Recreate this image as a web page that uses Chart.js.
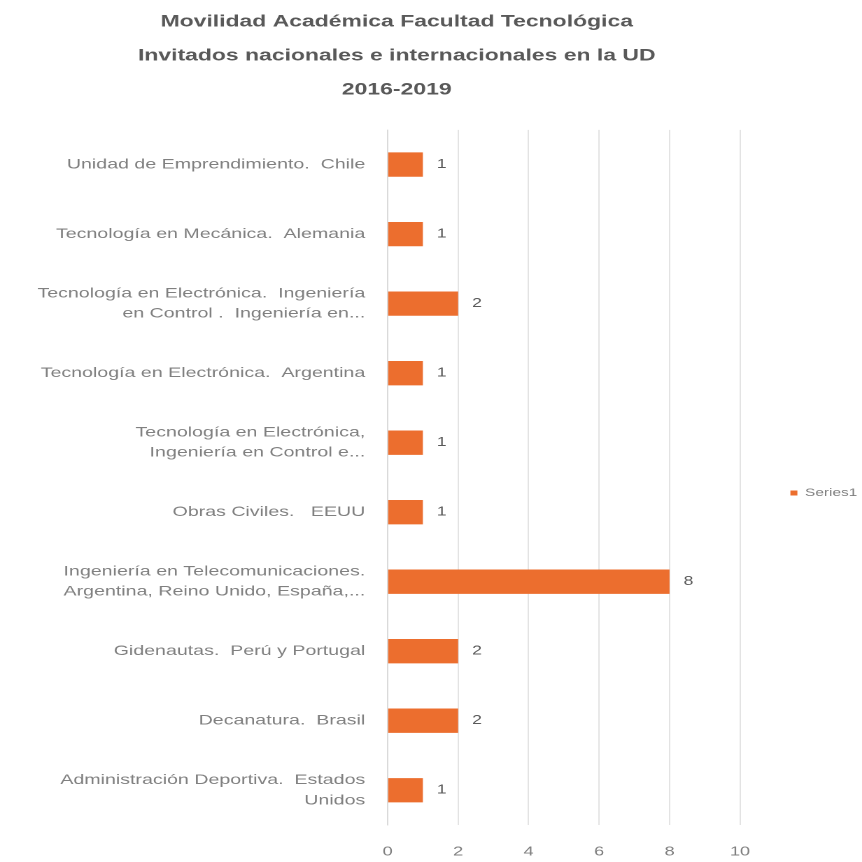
<!DOCTYPE html>
<html>
<head>
<meta charset="utf-8">
<script src="https://cdn.jsdelivr.net/npm/chart.js@4.4.0/dist/chart.umd.min.js"></script>
<style>
  html, body { margin: 0; padding: 0; background: #fff; overflow: hidden; }
  /* the original picture is stretched sideways, so the canvas is too */
  #wrap { width: 616px; height: 862px; transform: scaleX(1.3994); transform-origin: 0 0; }
</style>
</head>
<body>
<div id="wrap"><canvas id="chart" width="616" height="862"></canvas></div>
<script>
const categories = [
  'Unidad de Emprendimiento.  Chile',
  'Tecnología en Mecánica.  Alemania',
  ['Tecnología en Electrónica.  Ingeniería', 'en Control .  Ingeniería en...'],
  'Tecnología en Electrónica.  Argentina',
  ['Tecnología en Electrónica,', 'Ingeniería en Control e...'],
  'Obras Civiles.   EEUU',
  ['Ingeniería en Telecomunicaciones.', 'Argentina, Reino Unido, España,...'],
  'Gidenautas.  Perú y Portugal',
  'Decanatura.  Brasil',
  ['Administración Deportiva.  Estados', 'Unidos']
]
const series1 = [1, 1, 2, 1, 1, 1, 8, 2, 2, 1]
const xTicks = [0, 2, 4, 6, 8, 10]
const titleLines = [
  'Movilidad Académica Facultad Tecnológica',
  'Invitados nacionales e internacionales en la UD',
  '2016-2019'
]

const fontName = "'Liberation Sans', Arial, sans-serif"

// numbers next to the bar ends
const valueLabels = {
  id: 'valueLabels',
  afterDatasetsDraw(chart) {
    const ctx = chart.ctx
    const meta = chart.getDatasetMeta(0)
    ctx.save()
    ctx.font = '12.5px ' + fontName
    ctx.fillStyle = '#595959'
    ctx.textAlign = 'left'
    ctx.textBaseline = 'middle'
    meta.data.forEach((bar, i) => {
      ctx.fillText(String(series1[i]), bar.x + 10, bar.y)
    })
    ctx.restore()
  }
}

// title sits a bit left of the middle, legend a bit below it, in the original
const boxShift = {
  id: 'boxShift',
  afterLayout(chart) {
    if (chart.titleBlock) {
      chart.titleBlock.right = chart.titleBlock.left + 567
    }
    if (chart.legend) {
      chart.legend.top += 63
      chart.legend.bottom += 63
    }
  }
}

const ctx = document.getElementById('chart')
const chart = new Chart(ctx, {
  type: 'bar',
  data: {
    labels: categories,
    datasets: [{
      label: 'Series1',
      data: series1,
      backgroundColor: '#EC6E2E',
      borderWidth: 0,
      categoryPercentage: 1,
      barPercentage: 0.35
    }]
  },
  options: {
    indexAxis: 'y',
    responsive: false,
    animation: false,
    devicePixelRatio: 2,
    layout: { autoPadding: false, padding: { left: 0, right: -6.6, top: 0, bottom: 2 } },
    scales: {
      x: {
        min: 0,
        max: 10,
        afterBuildTicks(scale) {
          scale.ticks = xTicks.map(v => ({ value: v }))
        },
        afterFit(scale) { scale.height = 35 },
        grid: { color: '#dcdcdc', lineWidth: 0.8, drawTicks: false },
        border: { display: false },
        ticks: {
          color: '#7f7f7f',
          font: { family: fontName, size: 13 },
          padding: 19
        }
      },
      y: {
        grid: { display: false },
        border: { color: '#d9d9d9', width: 0.8 },
        afterFit(scale) {
          scale.width = 277
          scale.paddingTop = 0
          scale.paddingBottom = 0
        },
        ticks: {
          color: '#808080',
          font: { family: fontName, size: 14, lineHeight: 1.45 },
          padding: 8,
          autoSkip: false
        }
      }
    },
    plugins: {
      title: {
        display: true,
        text: titleLines,
        color: '#595959',
        font: { family: fontName, size: 16.4, weight: 'bold', lineHeight: 2.07 },
        padding: { top: 5, bottom: 23 }
      },
      legend: {
        position: 'right',
        labels: {
          color: '#7f7f7f',
          font: { family: fontName, size: 11 },
          boxWidth: 5,
          boxHeight: 5,
          padding: 36
        }
      },
      tooltip: { enabled: false }
    }
  },
  plugins: [valueLabels, boxShift]
})
</script>
</body>
</html>
